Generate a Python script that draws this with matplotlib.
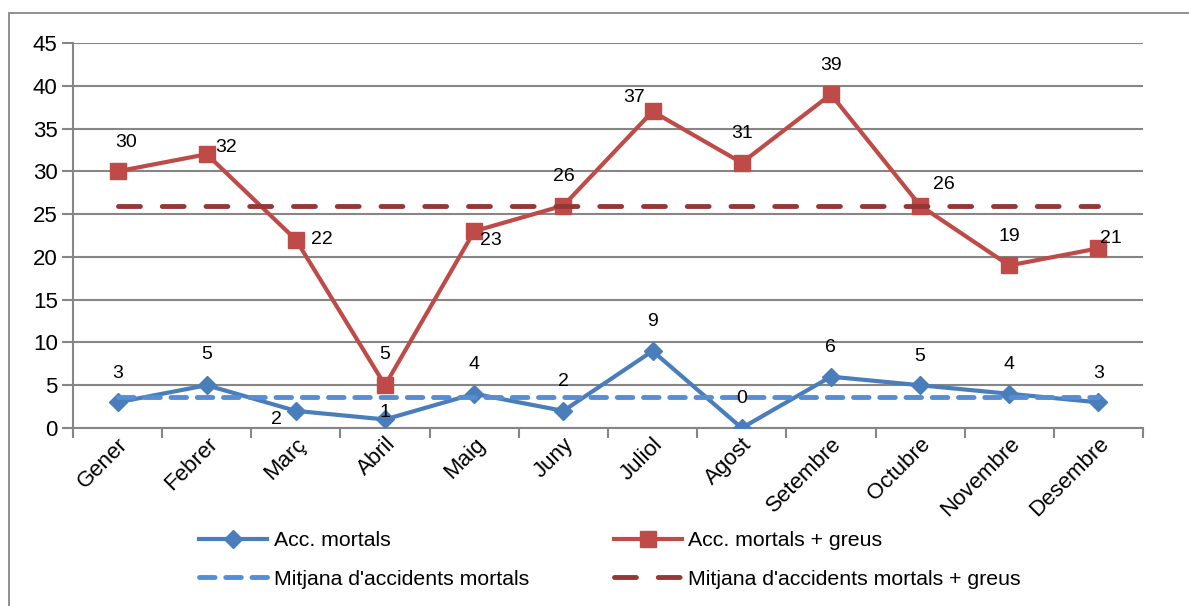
import matplotlib
matplotlib.use("Agg")
import matplotlib.pyplot as plt
from matplotlib.patches import Rectangle
from matplotlib.ticker import MultipleLocator, FixedLocator
import numpy as np

plt.rcParams['font.family'] = ['Liberation Sans', 'DejaVu Sans']

months = ["Gener", "Febrer", "Març", "Abril", "Maig", "Juny", "Juliol",
          "Agost", "Setembre", "Octubre", "Novembre", "Desembre"]
mortals = [3, 5, 2, 1, 4, 2, 9, 0, 6, 5, 4, 3]
mortals_greus = [30, 32, 22, 5, 23, 26, 37, 31, 39, 26, 19, 21]

# label offsets (points) for each data label
off_mortals = [(0, 21), (0, 22), (-14, -6), (0, 5), (0, 21), (0, 21),
               (0, 21), (0, 21), (0, 21), (0, 21), (0, 21), (0, 21)]
off_greus = [(6, 21), (14, 5), (19, 0), (0, 22), (12, -7), (0, 21),
             (-13, 10), (0, 21), (0, 21), (17, 15), (0, 21), (9, 7)]

mean_m = np.mean(mortals)
mean_g = np.mean(mortals_greus)

BLUE = "#4A7EBB"
RED = "#BE4B48"
LBLUE = "#558ED5"
DRED = "#953735"
GRID = "#868686"

fig = plt.figure(figsize=(11.89, 6.06), dpi=100)
fig.patches.append(Rectangle((9 / 1189, -0.1), 1.2, 1.1 - 13 / 606,
                             transform=fig.transFigure, fill=False,
                             edgecolor="#888888", linewidth=1.3))

ax = fig.add_axes([73 / 1189, 1 - 428 / 606, 1070 / 1189, 385 / 606])
x = np.arange(len(months))

h1, = ax.plot(x, mortals, color=BLUE, lw=3, marker="D", ms=9,
              label="Acc. mortals", zorder=3)
h2, = ax.plot(x, mortals_greus, color=RED, lw=3, marker="s", ms=11,
              label="Acc. mortals + greus", zorder=3)
h3, = ax.plot(x, [mean_m] * len(x), color=LBLUE, lw=3.5, ls=(0, (3.2, 2.2)),
              dash_capstyle="round", label="Mitjana d'accidents mortals",
              zorder=4)
h4, = ax.plot(x, [mean_g] * len(x), color=DRED, lw=3.5, ls=(0, (4.5, 4.5)),
              dash_capstyle="round",
              label="Mitjana d'accidents mortals + greus", zorder=4)

for xi, v, o in zip(x, mortals, off_mortals):
    ax.annotate(str(v), (xi, v), xytext=o, textcoords="offset points",
                ha="center", va="center", fontsize=14, zorder=5)
for xi, v, o in zip(x, mortals_greus, off_greus):
    ax.annotate(str(v), (xi, v), xytext=o, textcoords="offset points",
                ha="center", va="center", fontsize=14, zorder=5)

ax.set_xlim(-0.5, len(months) - 0.5)
ax.set_ylim(0, 45)
ax.yaxis.set_major_locator(MultipleLocator(5))
ax.grid(axis="y", color=GRID, lw=1.5)
ax.set_axisbelow(True)

ax.set_xticks(x)
ax.set_xticklabels(months, rotation=45, ha="right", va="top",
                   rotation_mode="anchor", fontsize=16)
ax.xaxis.set_minor_locator(FixedLocator(np.arange(-0.5, len(months), 1)))
ax.tick_params(axis="x", which="major", length=0, pad=4)
ax.tick_params(axis="x", which="minor", length=7, width=1.5, color=GRID)
ax.tick_params(axis="y", length=8, width=1.5, color=GRID, labelsize=16, pad=3)

for s in ("top", "right"):
    ax.spines[s].set_visible(False)
for s in ("left", "bottom"):
    ax.spines[s].set_color(GRID)
    ax.spines[s].set_linewidth(1.5)

fig.legend(handles=[h1, h3, h2, h4], loc="center",
           bbox_to_anchor=(610 / 1189, 1 - 560 / 606), ncol=2,
           frameon=False, fontsize=15.3, handlelength=3.2, handletextpad=0.3,
           columnspacing=4.0, labelspacing=0.9)

fig.savefig("out.png", dpi=100)
